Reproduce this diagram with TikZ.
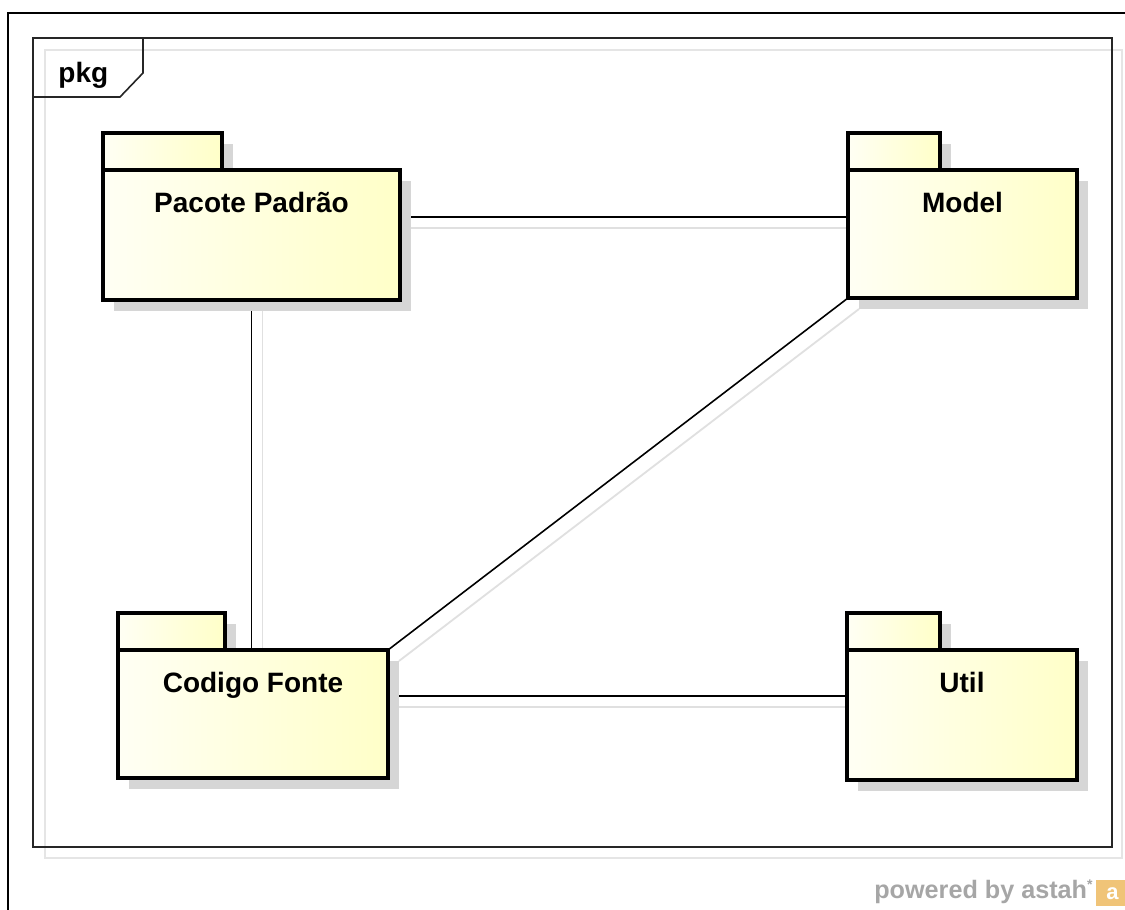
\documentclass[tikz,border=0pt]{standalone}
\usepackage{fontspec}
\setmainfont{Liberation Sans}
\usetikzlibrary{positioning,shadows,backgrounds}

\definecolor{pkgyellow}{RGB}{255,255,200}
\definecolor{pkgpale}{RGB}{255,255,244}
\definecolor{astahorange}{RGB}{240,196,120}

\tikzset{
  pkgshadow/.style={drop shadow={shadow xshift=5.5pt, shadow yshift=-5.5pt, fill=black!16, opacity=1}},
  pkgtab/.style={draw, line width=1.8pt, outer sep=0pt, inner sep=0pt, minimum height=18.5pt,
    left color=pkgpale, right color=pkgyellow, pkgshadow},
  pkgbody/.style={draw, line width=1.8pt, outer sep=0pt, inner sep=0pt,
    left color=pkgpale, right color=pkgyellow, pkgshadow},
  pkgname/.style={anchor=base, yshift=-21pt},
  frameline/.style={line width=0.8pt, draw=black!85},
  assoc/.style={line width=0.8pt, preaction={draw=black!12, line width=0.9pt,
    transform canvas={xshift=5.5pt, yshift=-5.5pt}}},
}

\begin{document}
\begin{tikzpicture}[x=0.5pt, y=-0.5pt, font=\bfseries\fontsize{14}{17}\selectfont]
  \useasboundingbox (0,0) rectangle (1125,910);

  % page border and pkg frame
  \draw[line width=1pt] (8,920) -- (8,13) -- (1135,13);
  \draw[draw=black!10, line width=0.8pt] (45,50) rectangle (1122,858);
  \draw[frameline] (33,38) rectangle (1112,847);
  \draw[frameline] (33,97) -- (120,97) -- (143,73) -- (143,38);
  \node[anchor=base west, inner sep=0pt] (pkgtitle) at (58,82) {pkg};

  % packages: tab first, body hangs below it
  \node[pkgtab, minimum width=59.5pt, anchor=north west] (pacotetab) at (103,133) {};
  \node[pkgbody, minimum width=148.5pt, minimum height=65pt, below right=0pt and 0pt of pacotetab.south west,
    label={[pkgname]north:Pacote Padrão}] (pacote) {};

  \node[pkgtab, minimum width=46pt, anchor=north west] (modeltab) at (848,133) {};
  \node[pkgbody, minimum width=114.5pt, minimum height=64pt, below right=0pt and 0pt of modeltab.south west,
    label={[pkgname]north:Model}] (model) {};

  \node[pkgtab, minimum width=53.5pt, anchor=north west] (codigotab) at (118,613) {};
  \node[pkgbody, minimum width=135pt, minimum height=64pt, below right=0pt and 0pt of codigotab.south west,
    label={[pkgname]north:Codigo Fonte}] (codigo) {};

  \node[pkgtab, minimum width=46.5pt, anchor=north west] (utiltab) at (847,613) {};
  \node[pkgbody, minimum width=115pt, minimum height=65pt, below right=0pt and 0pt of utiltab.south west,
    label={[pkgname]north:Util}] (util) {};

  % dependencies between packages, kept under the boxes
  \begin{scope}[on background layer]
    \fill[white] (0,0) rectangle (1125,910);
    \draw[assoc] ([yshift=-23.5pt]pacote.north east) -- ([yshift=-23.5pt]model.north west);
    \draw[assoc] (pacote.south) -- (pacote.south |- codigo.north);
    \draw[assoc] (codigo.north east) -- (model.south west);
    \draw[assoc] ([yshift=-23pt]codigo.north east) -- ([yshift=-23pt]util.north west);
  \end{scope}

  % watermark
  \node[anchor=base east, inner sep=0pt, text=black!35, font=\bfseries\fontsize{12.6}{15}\selectfont]
    (powered) at (1093,898) {powered by astah\raisebox{0.35em}{\fontsize{7}{8}\selectfont*}};
  \node[anchor=north west, fill=astahorange, minimum width=16pt, minimum height=13pt, inner sep=0pt,
    text=white, font=\bfseries\fontsize{11}{12}\selectfont] (astahlogo) at (1096,880) {a};
\end{tikzpicture}
\end{document}
